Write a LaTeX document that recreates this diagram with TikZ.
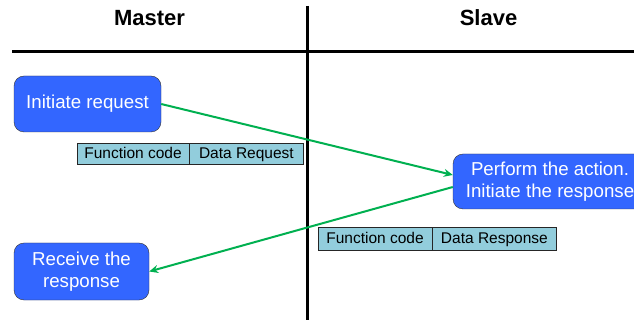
\documentclass[tikz,border=0pt]{standalone}
\usepackage{fontspec}
\setmainfont{Liberation Sans}
\usetikzlibrary{%
  arrows.meta,%
  positioning
}
\definecolor{boxblue}{RGB}{51,102,255}
\definecolor{cellaqua}{RGB}{146,205,220}
\definecolor{msggreen}{RGB}{0,176,80}

\begin{document}
\begin{tikzpicture}[x=1pt,y=-1pt,
    action/.style={draw=black!80,fill=boxblue,rounded corners=10pt,
      text=white,align=center,inner sep=0pt,
      font=\fontsize{18.7}{22.5}\selectfont},
    cell/.style={draw=black!85,fill=cellaqua,inner sep=0pt,
      text height=11.5pt,text depth=1pt,
      font=\fontsize{15.5}{18}\selectfont},
    msg/.style={draw=msggreen,line width=2pt,
      -{Stealth[length=9pt,width=8pt]}}
  ]
  \useasboundingbox (0,0) rectangle (634,320);
  % lanes
  \draw [line width=3pt] (12,52) -- (634,52);
  \draw [line width=3pt] (307,6) -- (307,320);
  \node [font=\bfseries\fontsize{22}{26}\selectfont] (master) at (149.5,18) {Master};
  \node [font=\bfseries\fontsize{22}{26}\selectfont] (slave) at (488.5,18) {Slave};
  % steps
  \node [action,minimum width=147pt,minimum height=56pt] (init) at (87.5,104)
    {Initiate request};
  \node [action,minimum width=194pt,minimum height=55pt] (perform) at (550,181.5)
    {Perform the action.\\Initiate the response};
  \node [action,minimum width=135pt,minimum height=57pt] (receive) at (81.5,271.5)
    {Receive the\\response};
  % frames
  \node [cell,minimum width=112pt,minimum height=21pt] (fcreq) at (133,153.5)
    {Function code};
  \node [cell,minimum width=114pt,minimum height=21pt,right=0pt of fcreq] (drreq)
    {Data Request};
  \node [cell,minimum width=114pt,minimum height=23pt] (fcresp) at (375,238.5)
    {Function code};
  \node [cell,minimum width=124pt,minimum height=23pt,right=0pt of fcresp] (drresp)
    {Data Response};
  % messages
  \draw [msg] (init.east) -- ([yshift=6.5pt]perform.west);
  \draw [msg] ([yshift=-5.5pt]perform.west) -- (receive.east);
\end{tikzpicture}
\end{document}
